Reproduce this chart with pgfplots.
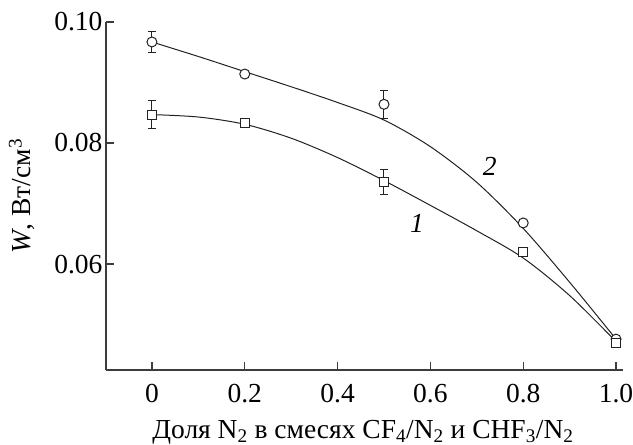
\documentclass[border=0pt]{standalone}
\usepackage{fontspec}
\setmainfont{Liberation Serif}
\usepackage{pgfplots}
\pgfplotsset{compat=1.18}
\definecolor{ax}{HTML}{3C3C3C}
\definecolor{ln}{HTML}{222222}
\newcommand{\fs}{\fontsize{27.5bp}{32bp}\selectfont}
\begin{document}
\begin{tikzpicture}[font=\fs]
\begin{axis}[
  name=ax,
  at={(0,0)}, anchor=south west,
  scale only axis, width=517bp, height=348bp,
  xmin=-0.099, xmax=1.015, ymin=0.0425, ymax=0.1,
  axis lines=left,
  axis line style={-, draw=ax, line width=1.3bp},
  xtick={0,0.2,0.4,0.6,0.8,1.0},
  xticklabels={0,0.2,0.4,0.6,0.8,1.0},
  ytick={0.06,0.08,0.10},
  yticklabels={0.06,0.08,0.10},
  tick align=inside,
  major tick length=8bp,
  tick style={draw=ax, line width=1.3bp},
  tick label style={font=\fs},
  xticklabel shift=11bp,
  /pgf/number format/assume math mode=true,
  xlabel={Доля N\textsubscript{2} в смесях CF\textsubscript{4}/N\textsubscript{2} и CHF\textsubscript{3}/N\textsubscript{2}},
  ylabel={\textit{W}, Вт/см\textsuperscript{3}},
  xlabel style={at={(axis description cs:0.497,-0.178)}, anchor=center, font=\fs},
  ylabel style={at={(axis description cs:-0.1625,0.50)}, anchor=center, font=\fs},
  clip=false,
]
% fitted curves
\addplot[ln, line width=1bp, smooth] coordinates {
  (0,0.0967) (0.1,0.0943) (0.2,0.0918) (0.3,0.0893) (0.4,0.0867) (0.5,0.0838)
  (0.6,0.0794) (0.7,0.0735) (0.8,0.0659) (0.9,0.0570) (1.0,0.0476)};
\addplot[ln, line width=1bp, smooth] coordinates {
  (0,0.0847) (0.1,0.0843) (0.2,0.0831) (0.3,0.0808) (0.4,0.0776) (0.5,0.0738)
  (0.6,0.0697) (0.7,0.0655) (0.8,0.0610) (0.9,0.0548) (1.0,0.0472)};
% error bars
\addplot[draw=none, mark=none, error bars/.cd, y dir=both, y explicit,
  error bar style={ln, line width=1bp},
  error mark options={rotate=90, mark size=4bp, ln, line width=1bp}]
  coordinates {(0,0.0967) +- (0,0.0017) (0.5,0.0864) +- (0,0.0023)};
\addplot[draw=none, mark=none, error bars/.cd, y dir=both, y explicit,
  error bar style={ln, line width=1bp},
  error mark options={rotate=90, mark size=4bp, ln, line width=1bp}]
  coordinates {(0,0.0847) +- (0,0.0023) (0.5,0.0736) +- (0,0.0021)};
% markers
\addplot[only marks, mark=*, mark size=5bp, mark options={draw=ln, fill=white, line width=1bp}]
  coordinates {(0,0.0967) (0.2,0.0914) (0.5,0.0864) (0.8,0.0668) (1.0,0.0476)};
\addplot[only marks, mark=square*, mark size=4.5bp, mark options={draw=ln, fill=white, line width=1bp}]
  coordinates {(0,0.0847) (0.2,0.0833) (0.5,0.0736) (0.8,0.0620) (1.0,0.0469)};
\node[font=\fs\itshape] at (axis cs:0.728,0.0762) {2};
\node[font=\fs\itshape] at (axis cs:0.571,0.0668) {1};
\end{axis}
\pgfresetboundingbox
\path ([shift={(-106bp,-75bp)}]ax.south west) rectangle ([shift={(10bp,22bp)}]ax.north east);
\end{tikzpicture}
\end{document}
